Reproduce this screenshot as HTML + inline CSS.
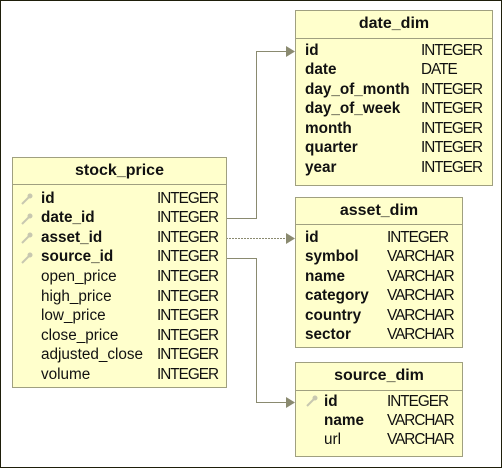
<!DOCTYPE html>
<html><head><meta charset="utf-8"><style>
body{margin:0;width:502px;height:468px;overflow:hidden;background:#fff;font-family:"Liberation Sans",sans-serif;}
#frame{position:absolute;left:0;top:0;width:500px;height:466px;border:1px solid #1e1e0a;}
.t{position:absolute;background:#ffffcc;border:1px solid #a0a080;box-sizing:border-box;}
.h{position:absolute;left:0;right:0;top:0;border-bottom:1px solid #a0a080;text-align:center;font-weight:bold;font-size:16px;color:#111;}
.r{position:absolute;font-size:15.3px;color:#111;white-space:nowrap;}
.ty{letter-spacing:-1px;}
.b{font-weight:bold;}
svg{position:absolute;left:0;top:0;}
</style></head><body>
<div id="frame"></div>
<svg width="502" height="468">
<g stroke="#8a8a70" stroke-width="1" fill="none">
<polyline points="226,218.5 256.5,218.5 256.5,51.5 288,51.5"/>
<polyline points="226,238.5 288,238.5" stroke-dasharray="2,1"/>
<polyline points="226,258.5 256.5,258.5 256.5,402.5 288,402.5"/>
</g>
<g fill="#8a8a70">
<polygon points="286,46 295,51.5 286,57"/>
<polygon points="286,233 295,238.5 286,244"/>
<polygon points="286,397 295,402.5 286,408"/>
</g>
</svg>

<div class="t" style="left:12px;top:157px;width:215px;height:231px;">
<div class="h" style="height:26px;line-height:25px;">stock_price</div>
</div>
<div class="t" style="left:295px;top:10px;width:198px;height:176px;">
<div class="h" style="height:27px;line-height:26px;">date_dim</div>
</div>
<div class="t" style="left:295px;top:197px;width:168px;height:151px;">
<div class="h" style="height:26px;line-height:25px;">asset_dim</div>
</div>
<div class="t" style="left:295px;top:362px;width:168px;height:95px;">
<div class="h" style="height:27px;line-height:26px;">source_dim</div>
</div>

<script>
function add(x,y,txt,cls){var d=document.createElement('div');d.className='r '+(cls||'');d.style.left=x+'px';d.style.top=(y-9.5)+'px';d.textContent=txt;document.body.appendChild(d);}
function key(x,y){var s='<svg width="14" height="14" style="left:'+x+'px;top:'+(y-7)+'px"><line x1="2" y1="12" x2="9" y2="5" stroke="#c8c8b0" stroke-width="2"/><circle cx="10" cy="4" r="2.5" fill="#c8c8b0"/></svg>';document.body.insertAdjacentHTML('beforeend',s);}
var sp=[["id",1],["date_id",1],["asset_id",1],["source_id",1],["open_price"],["high_price"],["low_price"],["close_price"],["adjusted_close"],["volume"]];
sp.forEach(function(r,i){var y=199+i*19.6;if(r[1])key(20,y);add(41,y,r[0],r[1]?'b':'');add(157,y,'INTEGER','ty');});
var dd=[["id","INTEGER"],["date","DATE"],["day_of_month","INTEGER"],["day_of_week","INTEGER"],["month","INTEGER"],["quarter","INTEGER"],["year","INTEGER"]];
dd.forEach(function(r,i){var y=51+i*19.5;add(305,y,r[0],'b');add(421,y,r[1],'ty');});
var ad=[["id","INTEGER"],["symbol","VARCHAR"],["name","VARCHAR"],["category","VARCHAR"],["country","VARCHAR"],["sector","VARCHAR"]];
ad.forEach(function(r,i){var y=238+i*19.5;add(305,y,r[0],'b');add(387,y,r[1],'ty');});
var sd=[["id","INTEGER",'b'],["name","VARCHAR",'b'],["url","VARCHAR",'']];
key(305,401);
sd.forEach(function(r,i){var y=402+i*19.3;add(324,y,r[0],r[2]);add(387,y,r[1],'ty');});
</script>
</body></html>
